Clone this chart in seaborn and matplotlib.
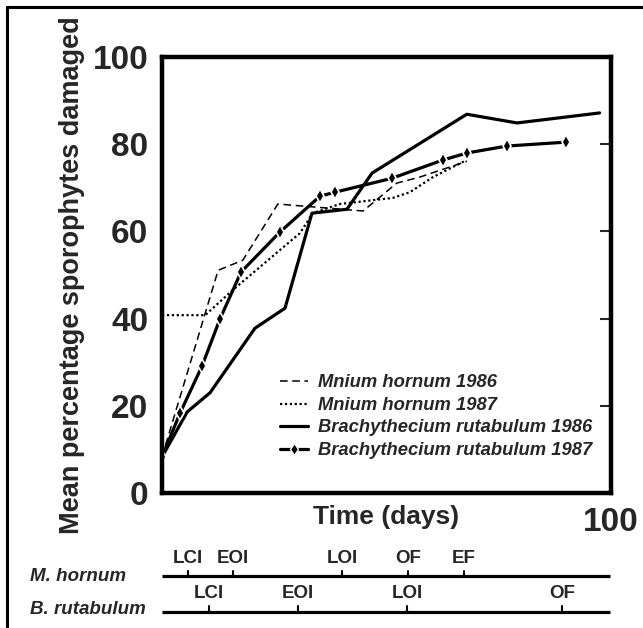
import matplotlib
matplotlib.use("Agg")
import matplotlib.pyplot as plt
import seaborn as sns
from matplotlib.lines import Line2D

sns.set_style("white")
plt.rcParams['font.family'] = ['Liberation Sans', 'DejaVu Sans']
plt.rcParams['font.weight'] = 'bold'
plt.rcParams['axes.labelweight'] = 'bold'

# damage curves (days, mean % sporophytes damaged)
mh86_days = [0, 12.5, 18.0, 25.8, 44.8, 52.3, 57.5, 67.9]
mh86_vals = [8.3, 51.1, 53.4, 66.3, 64.7, 71.1, 72.5, 76.1]
mh87_days = [0, 9.6, 15.8, 30.7, 33.6, 39.6, 51.4, 55.2, 60.4, 67.9]
mh87_vals = [40.8, 40.8, 46.6, 59.6, 64.2, 66.3, 67.7, 69.0, 72.5, 76.4]
br86_days = [0, 5.6, 10.7, 20.7, 27.4, 33.4, 41.2, 46.8, 67.9, 79.1, 97.5]
br86_vals = [8.3, 18.6, 23.0, 37.8, 42.4, 64.2, 65.1, 73.4, 86.9, 84.9, 87.2]
br87_days = [0, 4.0, 8.9, 12.9, 17.6, 26.3, 35.2, 38.5, 51.2, 62.6, 67.9, 76.8, 90.0]
br87_vals = [8.3, 18.3, 29.1, 39.9, 50.7, 59.9, 68.1, 69.0, 72.2, 76.4, 78.0, 79.6, 80.5]

# phenology stages along the time axis
mh_stage_days = [5.8, 15.8, 40.1, 54.8, 67.3]
mh_stage_labels = ["LCI", "EOI", "LOI", "OF", "EF"]
br_stage_days = [10.5, 30.3, 54.6, 89.1]
br_stage_labels = ["LCI", "EOI", "LOI", "OF"]

fig = plt.figure(figsize=(6.43, 6.28), dpi=100)
ax = fig.add_axes([0.252, 0.215, 0.698, 0.694])

sns.lineplot(x=mh86_days, y=mh86_vals, ax=ax, color='black', lw=1.1,
             linestyle=(0, (5, 3)), sort=False, estimator=None)
sns.lineplot(x=mh87_days, y=mh87_vals, ax=ax, color='black', lw=1.6,
             linestyle=(0, (1, 1.2)), sort=False, estimator=None)
sns.lineplot(x=br86_days, y=br86_vals, ax=ax, color='black', lw=2.3,
             sort=False, estimator=None)
sns.lineplot(x=br87_days, y=br87_vals, ax=ax, color='black', lw=2.3,
             marker='d', markersize=7, markeredgecolor='white', markeredgewidth=1.2,
             sort=False, estimator=None)

ax.set_xlim(0, 100)
ax.set_ylim(0, 100)
ax.set_yticks([0, 20, 40, 60, 80, 100])
ax.set_xticks([50, 100])
ax.set_xticklabels(["", "100"])
ax.tick_params(axis='both', direction='in', length=8, width=1.5,
               labelsize=24, pad=10)
ax.tick_params(axis='y', right=True, labelright=False)
for s in ax.spines.values():
    s.set_linewidth(3.2)
    s.set_color('black')

ax.set_ylabel("Mean percentage sporophytes damaged", fontsize=19.5, labelpad=5)
ax.set_xlabel("Time (days)", fontsize=19)
ax.xaxis.set_label_coords(0.5, -0.027)

handles = [
    Line2D([], [], color='black', lw=1.1, linestyle=(0, (5, 3))),
    Line2D([], [], color='black', lw=1.6, linestyle=(0, (1, 1.2))),
    Line2D([], [], color='black', lw=2.3),
    Line2D([], [], color='black', lw=2.3, marker='d', markersize=6,
           markeredgecolor='white', markeredgewidth=1.0),
]
labels = ["Mnium hornum 1986", "Mnium hornum 1987",
          "Brachythecium rutabulum 1986", "Brachythecium rutabulum 1987"]
leg = ax.legend(handles, labels, loc='upper left', bbox_to_anchor=(0.243, 0.293),
                frameon=False, borderpad=0, handlelength=1.5, handletextpad=0.55,
                labelspacing=0.3, prop={'size': 13.2, 'style': 'italic', 'weight': 'bold'})

# timeline of stages below the plot
tl = fig.add_axes([0.252, 0.0127, 0.698, 0.127])
tl.set_xlim(0, 100)
tl.set_ylim(0, 1)
tl.axis('off')
rows = [(0.55, mh_stage_days, mh_stage_labels, "M. hornum", 0.55),
        (0.10, br_stage_days, br_stage_labels, "B. rutabulum", 0.13)]
for y, days, labs, name, ny in rows:
    tl.plot([0, 99.8], [y, y], color='black', lw=2.3, solid_capstyle='butt')
    for d, lab in zip(days, labs):
        tl.plot([d, d], [y, y + 0.07], color='black', lw=1.5)
        tl.text(d, y + 0.12, lab, ha='center', va='bottom', fontsize=13.5)
    tl.text(-29.5, ny, name, ha='left', va='center', fontsize=13.5,
            style='italic', clip_on=False)

# figure frame: left and top edges
fig.add_artist(Line2D([7 / 643, 7 / 643], [0, 1 - 7 / 628], color='black', lw=2.2,
                      transform=fig.transFigure))
fig.add_artist(Line2D([7 / 643, 1], [1 - 7 / 628, 1 - 7 / 628], color='black', lw=2.2,
                      transform=fig.transFigure))

fig.savefig("out.png", dpi=100)
